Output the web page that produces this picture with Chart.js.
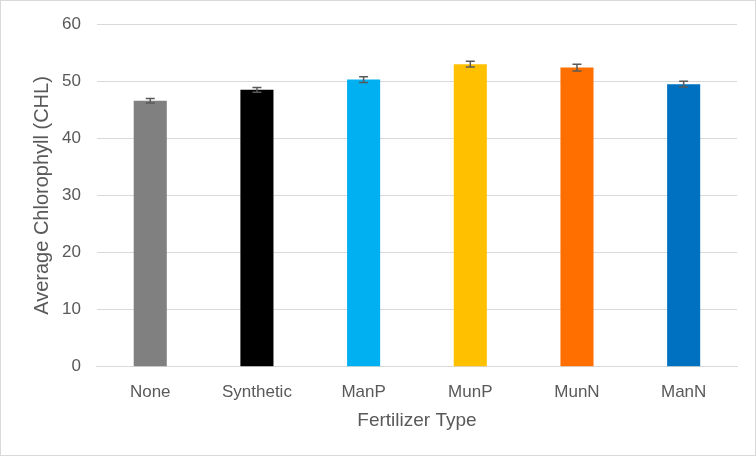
<!DOCTYPE html>
<html lang="en">
<head>
    <meta charset="UTF-8">
    <title>Average Chlorophyll</title>
    <script src="https://cdn.jsdelivr.net/npm/chart.js"></script>
    <style>
        body { margin: 0; background: #fff; }
        .frame { position: absolute; left: 0; top: 0; width: 754px; height: 454px; border: 1px solid #d9d9d9; }
        #chlChart { position: absolute; left: 0; top: -3px; }
    </style>
</head>
<body>
    <div class="frame"><canvas id="chlChart" width="754" height="457"></canvas></div>

    <script>
        // data
        const fertilizers = ['None', 'Synthetic', 'ManP', 'MunP', 'MunN', 'ManN'];
        const avgChl = [46.6, 48.5, 50.3, 53.0, 52.4, 49.5];
        const errChl = [0.4, 0.4, 0.5, 0.5, 0.6, 0.5];
        const barColors = ['#808080', '#000000', '#00b0f0', '#ffc000', '#ff6f00', '#0070c0'];

        // draw error bars with the chart's own scales
        const errorBars = {
            id: 'errorBars',
            afterDatasetsDraw(chart) {
                const ctx = chart.ctx;
                const y = chart.scales.y;
                const meta = chart.getDatasetMeta(0);
                ctx.save();
                ctx.strokeStyle = '#595959';
                ctx.lineWidth = 1.5;
                meta.data.forEach((bar, i) => {
                    const top = y.getPixelForValue(avgChl[i] + errChl[i]);
                    const bot = y.getPixelForValue(avgChl[i] - errChl[i]);
                    ctx.beginPath();
                    ctx.moveTo(bar.x, top); ctx.lineTo(bar.x, bot);
                    ctx.moveTo(bar.x - 4.5, top); ctx.lineTo(bar.x + 4.5, top);
                    ctx.moveTo(bar.x - 4.5, bot); ctx.lineTo(bar.x + 4.5, bot);
                    ctx.stroke();
                });
                ctx.restore();
            }
        };

        Chart.defaults.font.family = '"Liberation Sans", Arial, sans-serif';
        Chart.defaults.color = '#595959';

        const ctx = document.getElementById('chlChart').getContext('2d');
        const chlChart = new Chart(ctx, {
            type: 'bar',
            data: {
                labels: fertilizers,
                datasets: [{
                    data: avgChl,
                    backgroundColor: barColors,
                    categoryPercentage: 1,
                    barPercentage: 0.31
                }]
            },
            options: {
                responsive: false,
                animation: false,
                layout: { padding: { left: 25, right: 18, top: 4, bottom: 19 } },
                plugins: { legend: { display: false }, tooltip: { enabled: false } },
                scales: {
                    x: {
                        grid: { display: false },
                        border: { color: '#d9d9d9' },
                        ticks: { font: { size: 17 }, padding: 7 },
                        title: { display: true, text: 'Fertilizer Type', font: { size: 19 }, padding: { top: 0 } }
                    },
                    y: {
                        min: 0,
                        max: 60,
                        ticks: { stepSize: 10, font: { size: 17 }, padding: 16 },
                        grid: { color: '#d9d9d9', drawTicks: false },
                        border: { display: false },
                        title: { display: true, text: 'Average Chlorophyll (CHL)', font: { size: 20 }, padding: { bottom: -8 } }
                    }
                }
            },
            plugins: [errorBars]
        });
    </script>
</body>
</html>
